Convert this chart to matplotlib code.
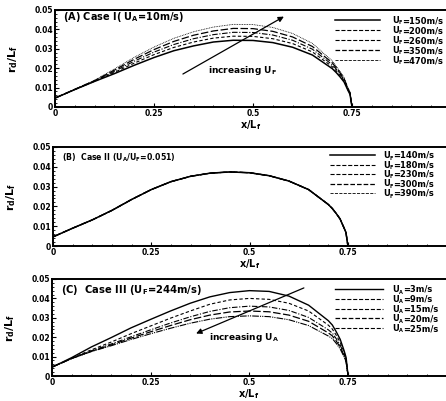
import matplotlib
matplotlib.use("Agg")
import matplotlib.pyplot as plt
from matplotlib.lines import Line2D
from matplotlib.ticker import MultipleLocator

plt.rcParams['font.family'] = ['DejaVu Sans']
plt.rcParams['font.weight'] = 'bold'
plt.rcParams['mathtext.fontset'] = 'dejavusans'
plt.rcParams['mathtext.default'] = 'bf'

x = [0, 0.025, 0.05, 0.1, 0.15, 0.2, 0.25, 0.3, 0.35, 0.4, 0.45, 0.5, 0.55,
     0.6, 0.65, 0.7, 0.71, 0.72, 0.73, 0.74, 0.745, 0.75]

# Panel A: Case I (U_A = 10 m/s)  -- legend labels as (symbol, subscript, rest)
labels_a = [('U', 'F', '=150m/s'), ('U', 'F', '=200m/s'), ('U', 'F', '=260m/s'),
            ('U', 'F', '=350m/s'), ('U', 'F', '=470m/s')]
a_150 = [.0046, .0068, .0090, .0132, .0172, .0215, .0255, .0290, .0315, .0335, .0344, .0343, .0332, .0308, .0268, .0198, .0178, .0155, .0129, .0085, .0065, 0]
a_200 = [.0046, .0068, .0090, .0133, .0178, .0226, .0270, .0307, .0335, .0355, .0365, .0364, .0352, .0327, .0284, .0208, .0187, .0162, .0135, .0088, .0068, 0]
a_260 = [.0046, .0068, .0090, .0134, .0184, .0236, .0283, .0322, .0352, .0373, .0385, .0384, .0371, .0344, .0298, .0218, .0196, .0170, .0141, .0092, .0071, 0]
a_350 = [.0046, .0068, .0091, .0136, .0190, .0246, .0296, .0338, .0370, .0392, .0405, .0404, .0390, .0361, .0312, .0228, .0203, .0176, .0146, .0094, .0074, 0]
a_470 = [.0046, .0068, .0092, .0138, .0196, .0256, .0309, .0354, .0388, .0412, .0426, .0425, .0410, .0379, .0328, .0238, .0211, .0183, .0152, .0097, .0077, 0]

# Panel B: Case II (U_A/U_F = 0.051) - all curves coincide
labels_b = [('U', 'F', '=140m/s'), ('U', 'F', '=180m/s'), ('U', 'F', '=230m/s'),
            ('U', 'F', '=300m/s'), ('U', 'F', '=390m/s')]
b_140 = [.0046, .0068, .0090, .0132, .0180, .0235, .0285, .0325, .0352, .0368, .0374, .0370, .0355, .0328, .0285, .0210, .0190, .0165, .0137, .0092, .0069, 0]
b_180 = [.0046, .0068, .0090, .0132, .0180, .0235, .0285, .0325, .0352, .0368, .0374, .0370, .0355, .0328, .0285, .0210, .0190, .0165, .0137, .0092, .0069, 0]
b_230 = [.0046, .0068, .0090, .0132, .0180, .0235, .0285, .0325, .0352, .0368, .0374, .0370, .0355, .0328, .0285, .0210, .0190, .0165, .0137, .0092, .0069, 0]
b_300 = [.0046, .0068, .0090, .0132, .0180, .0235, .0285, .0325, .0352, .0368, .0374, .0370, .0355, .0328, .0285, .0210, .0190, .0165, .0137, .0092, .0069, 0]
b_390 = [.0046, .0068, .0090, .0132, .0180, .0235, .0285, .0325, .0352, .0368, .0374, .0370, .0355, .0328, .0285, .0210, .0190, .0165, .0137, .0092, .0069, 0]

# Panel C: Case III (U_F = 244 m/s)
labels_c = [('U', 'A', '=3m/s'), ('U', 'A', '=9m/s'), ('U', 'A', '=15m/s'),
            ('U', 'A', '=20m/s'), ('U', 'A', '=25m/s')]
c_3 = [.0046, .0070, .0095, .0150, .0198, .0248, .0292, .0335, .0375, .0408, .0430, .0440, .0436, .0412, .0365, .0285, .0263, .0228, .0189, .0130, .0095, 0]
c_9 = [.0046, .0068, .0092, .0135, .0175, .0218, .0258, .0298, .0335, .0370, .0392, .0400, .0395, .0375, .0335, .0262, .0242, .0210, .0174, .0122, .0088, 0]
c_15 = [.0046, .0068, .0091, .0130, .0165, .0202, .0238, .0273, .0305, .0333, .0352, .0360, .0356, .0338, .0302, .0238, .0221, .0192, .0159, .0112, .0080, 0]
c_20 = [.0046, .0068, .0090, .0128, .0160, .0195, .0228, .0260, .0290, .0314, .0330, .0335, .0331, .0314, .0282, .0222, .0207, .0180, .0149, .0105, .0075, 0]
c_25 = [.0046, .0068, .0090, .0126, .0156, .0188, .0218, .0246, .0272, .0293, .0306, .0310, .0306, .0290, .0260, .0206, .0193, .0168, .0139, .0098, .0070, 0]

x_ticks = [0, 0.25, 0.5, 0.75]
x_tick_labels = ['0', '0.25', '0.5', '0.75']
y_ticks = [0, 0.01, 0.02, 0.03, 0.04, 0.05]
y_tick_labels = ['0', '0.01', '0.02', '0.03', '0.04', '0.05']

styles = [
    dict(ls='-', lw=1.1),
    dict(ls=(0, (3, 2)), lw=0.8),
    dict(ls=(0, (5, 1.5, 1, 1.5)), lw=0.8),
    dict(ls=(0, (6, 2)), lw=0.9),
    dict(ls=(0, (1, 1)), lw=0.6),
]
styles_c = [
    dict(ls='-', lw=1.0),
    dict(ls=(0, (3, 2)), lw=0.8),
    dict(ls=(0, (5, 1.5, 1, 1.5)), lw=0.8),
    dict(ls=(0, (6, 2)), lw=0.9),
    dict(ls=(0, (6, 1, 1, 1, 1, 1)), lw=0.8),
]

W, H = 446, 401
fig = plt.figure(figsize=(W / 100, H / 100), dpi=100)
renderer = fig.canvas.get_renderer()


def make_ax(left_px, top_px, bottom_px, px_per_quarter, xlabelpad=0):
    width_px = W - left_px
    ax = fig.add_axes([left_px / W, 1 - bottom_px / H, width_px / W,
                       (bottom_px - top_px) / H])
    xmax = width_px / px_per_quarter * 0.25
    ax.set_xlim(0, xmax)
    ax.set_ylim(0, 0.05)
    ax.set_xticks(x_ticks)
    ax.set_xticklabels(x_tick_labels)
    ax.set_yticks(y_ticks)
    ax.set_yticklabels(y_tick_labels)
    ax.xaxis.set_minor_locator(MultipleLocator(0.05))
    ax.yaxis.set_minor_locator(MultipleLocator(0.002))
    ax.tick_params(which='major', direction='in', length=3, width=0.8,
                   labelsize=5.5, pad=1.5)
    ax.tick_params(which='minor', direction='in', length=1.5, width=0.6)
    ax.tick_params(axis='x', which='both', top=False)
    ax.spines['right'].set_visible(False)
    for s in ['left', 'bottom', 'top']:
        ax.spines[s].set_linewidth(1.4)
    ax.set_xlabel(r'x/L$_f$', fontsize=7, fontweight='bold', labelpad=xlabelpad)
    ax.set_ylabel(r'r$_d$/L$_f$', fontsize=8, fontweight='bold', labelpad=10)
    return ax


def sub_label(x_px, yc_px, parts, size):
    main, sub, rest = parts
    base_px = yc_px + 0.36 * size * 100 / 72
    t1 = fig.text(x_px / W, 1 - base_px / H, main, fontsize=size,
                  fontweight='bold', va='baseline', ha='left')
    x2 = t1.get_window_extent(renderer).x1
    t2 = fig.text(x2 / W, 1 - (base_px + 0.18 * size * 100 / 72) / H, sub,
                  fontsize=size * 0.6, fontweight='bold', va='baseline', ha='left')
    x3 = t2.get_window_extent(renderer).x1
    fig.text(x3 / W, 1 - base_px / H, rest, fontsize=size,
             fontweight='bold', va='baseline', ha='left')


def legend(lines, labels, x0_px, x1_px, xt_px, y0_px, dy_px):
    for i, (ln, lab) in enumerate(zip(lines, labels)):
        yc = y0_px + i * dy_px
        y = 1 - yc / H
        fig.add_artist(Line2D([x0_px / W, x1_px / W], [y, y],
                              transform=fig.transFigure, color='black',
                              ls=ln.get_linestyle(), lw=ln.get_linewidth()))
        sub_label(xt_px, yc, lab, 6.0)


# Panel A
axA = make_ax(55, 10, 107, 99)
linesA = []
for ys, st in zip([a_150, a_200, a_260, a_350, a_470], styles):
    ln, = axA.plot(x, ys, color='black', **st)
    linesA.append(ln)
axA.text(0.02, 0.0462, r'(A) Case I( U$_A$=10m/s)', fontsize=7, fontweight='bold',
         va='center', ha='left')
axA.annotate('', xy=(0.578, 0.0466), xytext=(0.323, 0.0170),
             arrowprops=dict(arrowstyle='-|>', color='black', lw=0.9,
                             mutation_scale=8, shrinkA=0, shrinkB=0))
axA.text(0.386, 0.0186, r'increasing U$_F$', fontsize=6.5, fontweight='bold',
         va='center', ha='left')
legend(linesA, labels_a, 335, 380, 392, 20, 10)

# Panel B
axB = make_ax(53, 147, 246, 98.3)
linesB = []
for ys, st in zip([b_140, b_180, b_230, b_300, b_390], styles):
    ln, = axB.plot(x, ys, color='black', **st)
    linesB.append(ln)
axB.text(0.023, 0.0445, r'(B)  Case II (U$_A$/U$_F$=0.051)', fontsize=5.6, fontweight='bold',
         va='center', ha='left')
legend(linesB, labels_b, 330, 375, 383, 155, 9.5)

# Panel C
axC = make_ax(52, 279, 376, 98.7, xlabelpad=0)
linesC = []
for ys, st in zip([c_3, c_9, c_15, c_20, c_25], styles_c):
    ln, = axC.plot(x, ys, color='black', **st)
    linesC.append(ln)
axC.text(0.023, 0.0445, r'(C)  Case III (U$_F$=244m/s)', fontsize=7.2, fontweight='bold',
         va='center', ha='left')
axC.annotate('', xy=(0.365, 0.0219), xytext=(0.638, 0.0454),
             arrowprops=dict(arrowstyle='-|>', color='black', lw=0.9,
                             mutation_scale=8, shrinkA=0, shrinkB=0))
axC.text(0.398, 0.0199, r'increasing U$_A$', fontsize=6.5, fontweight='bold',
         va='center', ha='left')
legend(linesC, labels_c, 335, 383, 392, 289, 9.75)

fig.savefig('out.png', dpi=100)
